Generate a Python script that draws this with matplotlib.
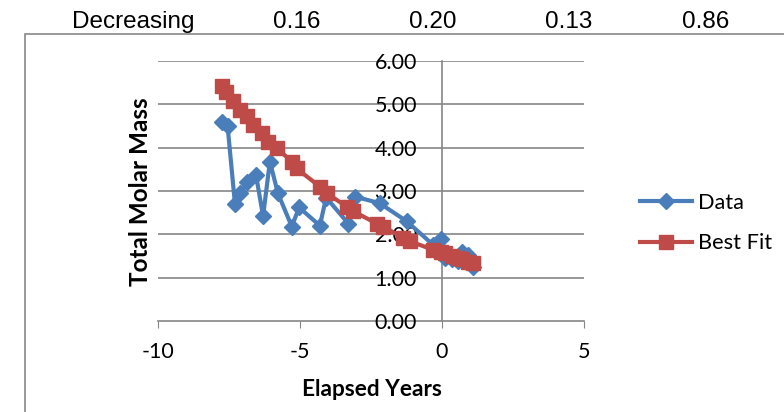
import matplotlib
matplotlib.use("Agg")
import matplotlib.pyplot as plt
from matplotlib.patches import Rectangle

plt.rcParams["axes.unicode_minus"] = False

# spreadsheet row visible above the chart
header_cells = ["Decreasing", "0.16", "0.20", "0.13", "0.86"]

# measured data (blue diamonds)
data_x = [-7.76, -7.55, -7.29, -7.1, -6.85, -6.55, -6.3, -6.06, -5.78, -5.29, -5.03,
          -4.3, -4.08, -3.3, -3.07, -2.2, -1.24, -0.3, -0.05, 0.12, 0.35, 0.55,
          0.72, 0.9, 1.1]
data_y = [4.60, 4.50, 2.70, 2.95, 3.20, 3.37, 2.42, 3.68, 2.95, 2.18, 2.62,
          2.20, 2.85, 2.25, 2.87, 2.72, 2.30, 1.75, 1.90, 1.45, 1.42, 1.38,
          1.60, 1.52, 1.25]

# best fit (red squares)
fit_x = [-7.76, -7.59, -7.36, -7.11, -6.88, -6.64, -6.35, -6.11, -5.82, -5.29, -5.12,
         -4.3, -4.06, -3.36, -3.12, -2.3, -2.06, -1.36, -1.13, -0.3, -0.05, 0.12,
         0.35, 0.55, 0.72, 0.9, 1.1]
fit_y = [5.42, 5.28, 5.07, 4.87, 4.72, 4.53, 4.33, 4.14, 3.99, 3.68, 3.52,
         3.10, 2.95, 2.64, 2.53, 2.25, 2.18, 1.91, 1.84, 1.64, 1.60, 1.56,
         1.50, 1.46, 1.42, 1.37, 1.33]

x_ticks = [-10, -5, 0, 5]
y_ticks = [0, 1, 2, 3, 4, 5, 6]

BLUE = "#4a7ebb"
RED = "#be4b48"
GRID = "#868686"
W, H = 784, 412

fig = plt.figure(figsize=(7.84, 4.12), dpi=100)

# header row text (pixel centres)
header_px = [133, 297, 433, 569, 706]
for txt, px in zip(header_cells, header_px):
    fig.text(px / W, 1 - 28 / H, txt, ha="center", va="baseline", fontsize=17.5,
             family="Liberation Sans", color="black")

# chart border (continues off the right/bottom edge)
fig.patches.append(Rectangle((25 / W, -0.05), 1.0, 1 - 34 / H + 0.05,
                             transform=fig.transFigure, fill=False,
                             edgecolor="#888888", linewidth=1.2))

ax = fig.add_axes([158 / W, 1 - 321 / H, (584 - 158) / W, (321 - 61) / H])

for yv in y_ticks[1:]:
    ax.axhline(yv, color=GRID, linewidth=1.2, zorder=0.5)

ax.plot(data_x, data_y, color=BLUE, linewidth=3, marker="D", markersize=8,
        label="Data", zorder=3)
ax.plot(fit_x, fit_y, color=RED, linewidth=3, marker="s", markersize=10,
        label="Best Fit", zorder=4)

ax.set_xlim(-10, 5)
ax.set_ylim(0, 6)
ax.set_xticks(x_ticks)
ax.set_yticks(y_ticks)
ax.set_yticklabels([f"{v:.2f}" for v in y_ticks])

ax.spines["left"].set_position(("data", 0))
for s in ["top", "right"]:
    ax.spines[s].set_visible(False)
for s in ["left", "bottom"]:
    ax.spines[s].set_color(GRID)
    ax.spines[s].set_linewidth(1.2)
    ax.spines[s].set_zorder(0.6)

ax.tick_params(axis="x", direction="out", length=5, color=GRID, labelsize=15.5, pad=10)
ax.tick_params(axis="y", length=0, labelsize=15.5, pad=18)
for lbl in ax.get_xticklabels() + ax.get_yticklabels():
    lbl.set_family("Lato")
    lbl.set_zorder(5)

fig.text(372 / W, 1 - 390 / H, "Elapsed Years", ha="center", va="center",
         fontsize=16.3, fontweight="bold", family="Lato")
fig.text(141 / W, 1 - 192 / H, "Total Molar Mass", ha="center", va="center",
         rotation=90, fontsize=17.5, fontweight="bold", family="Lato")

leg = fig.legend(loc="center left", bbox_to_anchor=(640 / W, 1 - 223 / H),
                 frameon=False, prop={"family": "Lato", "size": 15.7},
                 handlelength=2.4, labelspacing=0.95, handletextpad=0.25,
                 borderpad=0, borderaxespad=0)

fig.savefig("out.png", dpi=100)
